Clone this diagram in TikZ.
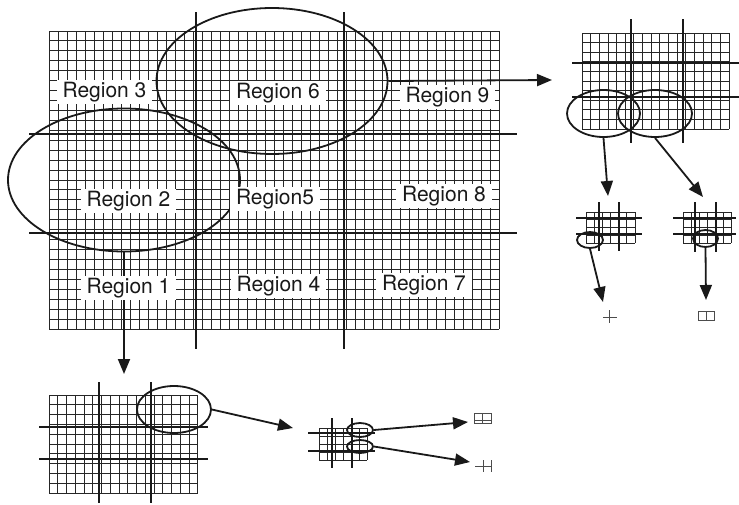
\documentclass[tikz,border=0pt]{standalone}
\usepackage{fontspec}
\setmainfont{TeX Gyre Heros}
\usetikzlibrary{arrows.meta,shapes.geometric}
\newcommand\gridpatch[6]{%
  \foreach \i in {0,...,#3}{\draw[gridln] ({#1+\i*#5},#2) -- ({#1+\i*#5},{#2+#4*#6});}
  \foreach \j in {0,...,#4}{\draw[gridln] (#1,{#2+\j*#6}) -- ({#1+#3*#5},{#2+\j*#6});}
}
\begin{document}
\begin{tikzpicture}[x=1pt,y=-1pt,
  gridln/.style={line width=0.9pt, draw=black!85},
  bigln/.style={line width=2.2pt, draw=black!90},
  ring/.style={ellipse, draw=black!90, line width=1.8pt, inner sep=0pt},
  conn/.style={line width=1.8pt, draw=black!90, -{Triangle[length=15pt,width=12pt]}},
  sym/.style={line width=0.9pt, draw=black!70},
  lbl/.style={fill=white, inner xsep=6pt, inner ysep=2pt, text height=15pt, text depth=5pt,
    font=\fontsize{21}{25}\selectfont, anchor=base, text=black!90}]
\useasboundingbox (0,0) rectangle (739,504);
% ---- main grid ----
\gridpatch{49}{31}{50}{30}{9}{9.933}
\draw[bigln] (196,12) -- (196,349);
\draw[bigln] (344,12) -- (344,349);
\draw[bigln] (29,134) -- (517,134);
\draw[bigln] (29,233) -- (517,233);
\node[ring, minimum width=231pt, minimum height=146pt] (e6) at (272,81) {};
\node[ring, minimum width=232pt, minimum height=143pt] (e2) at (124,180) {};
\coordinate (t1) at (124,374);
\coordinate (t2) at (552,80);
\draw[conn] (e2.south) -- (t1);
\draw[conn] (e6.east) -- (t2);
\node[lbl] (r3) at (104.5,97) {Region 3};
\node[lbl] (r6) at (278,98) {Region 6};
\node[lbl] (r9) at (447.5,102) {Region 9};
\node[lbl] (r2) at (128.5,206) {Region 2};
\node[lbl] (r5) at (275,204) {Region5};
\node[lbl] (r8) at (444,201) {Region 8};
\node[lbl] (r1) at (128.5,293) {Region 1};
\node[lbl] (r4) at (278.5,291) {Region 4};
\node[lbl] (r7) at (424,290) {Region 7};
% ---- top right grid ----
\gridpatch{582}{33}{17}{10}{8.65}{9.6}
\draw[bigln] (631,19) -- (631,143);
\draw[bigln] (683,19) -- (683,143);
\draw[bigln] (572,63) -- (739,63);
\draw[bigln] (572,97) -- (739,97);
\node[ring, minimum width=73pt, minimum height=47pt] (tl) at (603.5,113.5) {};
\node[ring, minimum width=74pt, minimum height=47pt] (tr) at (655,113.5) {};
\coordinate (t3) at (608,196);
\coordinate (t4) at (703,197);
\draw[conn] (tl.south) -- (t3);
\draw[conn] (tr.south) -- (t4);
% ---- small grid A ----
\gridpatch{586}{212}{6}{4}{8.17}{7.75}
\draw[bigln] (599,202) -- (599,251);
\draw[bigln] (619,202) -- (619,251);
\draw[bigln] (576,218) -- (642,218);
\draw[bigln] (576,234) -- (642,234);
\node[ring, minimum width=26pt, minimum height=16pt] (ea) at (590,240) {};
\coordinate (t5) at (603,302);
\draw[conn] (ea.south) -- (t5);
\draw[sym] (603,317) -- (617,317);
\draw[sym] (609,310) -- (609,323);
% ---- small grid B ----
\gridpatch{683}{212}{6}{4}{8}{7.75}
\draw[bigln] (695,202) -- (695,252);
\draw[bigln] (716,202) -- (716,252);
\draw[bigln] (673,218) -- (736,218);
\draw[bigln] (673,234) -- (736,234);
\node[ring, minimum width=25pt, minimum height=17pt] (eb) at (705.5,238.5) {};
\coordinate (t6) at (706,300);
\draw[conn] (eb.south) -- (t6);
\draw[sym] (698,311) rectangle (714,320);
\draw[sym] (706,311) -- (706,320);
% ---- bottom left grid ----
\gridpatch{49}{395}{17}{10}{8.76}{9.8}
\draw[bigln] (99,382) -- (99,503);
\draw[bigln] (151,382) -- (151,503);
\draw[bigln] (39,427) -- (208,427);
\draw[bigln] (39,459) -- (208,459);
\node[ring, minimum width=74pt, minimum height=47pt] (ec) at (174,409.5) {};
\coordinate (t7) at (293,428);
\draw[conn] (ec.east) -- (t7);
% ---- bottom middle grid ----
\gridpatch{319}{428}{6}{4}{8}{8}
\draw[bigln] (332,418) -- (332,468);
\draw[bigln] (352,418) -- (352,468);
\draw[bigln] (308,433) -- (375,433);
\draw[bigln] (308,451) -- (375,451);
\node[ring, minimum width=26pt, minimum height=14pt] (ed) at (360,430) {};
\node[ring, minimum width=26pt, minimum height=13pt] (ee) at (360,446.5) {};
\coordinate (t8) at (468,422);
\coordinate (t9) at (470,462);
\draw[conn] (ed.east) -- (t8);
\draw[conn] (ee.east) -- (t9);
\draw[sym] (474,413) rectangle (491,423);
\draw[sym] (482.5,413) -- (482.5,423);
\draw[sym] (474,420) -- (491,420);
\draw[sym] (475,466) -- (492,466);
\draw[sym] (483,460) -- (483,472);
\draw[sym] (491,460) -- (491,472);
\end{tikzpicture}
\end{document}
